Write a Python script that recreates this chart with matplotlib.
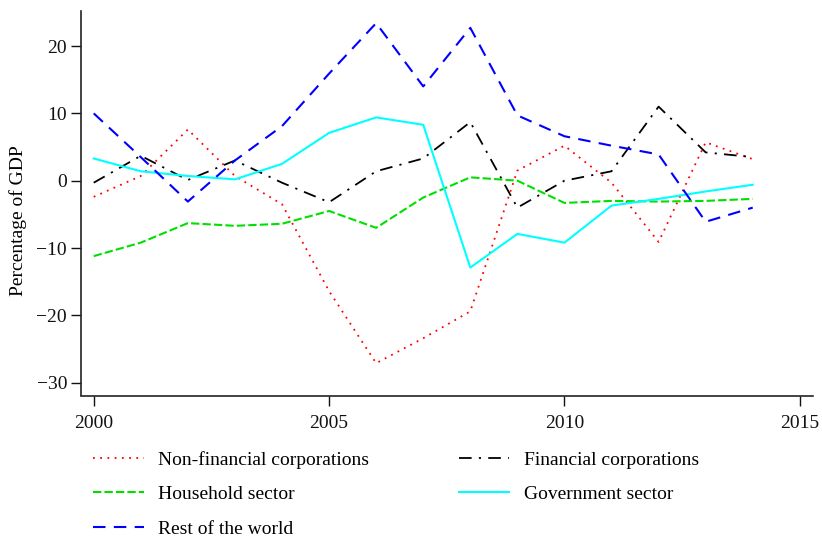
import matplotlib
matplotlib.use("Agg")
import matplotlib.pyplot as plt
from matplotlib.lines import Line2D

plt.rcParams['font.family'] = ['Liberation Serif', 'DejaVu Serif']

years = list(range(2000, 2015))
non_financial = [-2.4, 0.7, 7.6, 0.7, -3.5, -16.4, -27.1, -23.4, -19.4, 1.5, 5.2, -0.3, -9.1, 5.7, 3.2]
financial = [-0.3, 3.7, 0.1, 3.0, -0.3, -3.2, 1.4, 3.3, 8.7, -4.0, 0.0, 1.4, 11.0, 4.2, 3.5]
household = [-11.2, -9.2, -6.3, -6.7, -6.4, -4.5, -7.0, -2.5, 0.5, 0.0, -3.3, -3.0, -3.1, -3.0, -2.7]
government = [3.3, 1.4, 0.7, 0.2, 2.5, 7.1, 9.4, 8.3, -12.9, -7.9, -9.2, -3.7, -2.7, -1.6, -0.6]
rest_world = [10.0, 3.5, -3.1, 3.0, 8.1, 15.9, 23.4, 14.0, 22.7, 9.7, 6.6, 5.2, 3.9, -6.1, -4.0]

labels = ["Non-financial corporations", "Financial corporations", "Household sector",
          "Government sector", "Rest of the world"]
xticks = [2000, 2005, 2010, 2015]
yticks = [-30, -20, -10, 0, 10, 20]

fig = plt.figure(figsize=(8.22, 5.38), dpi=100)
ax = fig.add_axes([81/822, 1-395.5/538, (813-81)/822, (395.5-11)/538])

l1, = ax.plot(years, non_financial, color='#ff0000', lw=1.3, linestyle=(0, (1, 3)))
l2, = ax.plot(years, financial, color='black', lw=1.3, linestyle=(0, (7, 4, 1.2, 4)))
l3, = ax.plot(years, household, color='#00e000', lw=1.5, linestyle=(0, (4, 1.5)))
l4, = ax.plot(years, government, color='#00ffff', lw=1.5, linestyle='-')
l5, = ax.plot(years, rest_world, color='#0000ff', lw=1.5, linestyle=(0, (6, 4)))

ax.set_xlim(1999.73, 2015.28)
ax.set_ylim(-31.9, 25.2)
ax.set_xticks(xticks)
ax.set_yticks(yticks)
ax.set_yticklabels(["\u221230", "\u221220", "\u221210", "0", "10", "20"])
ax.spines['top'].set_visible(False)
ax.spines['right'].set_visible(False)
for s in ['left', 'bottom']:
    ax.spines[s].set_linewidth(1.2)
    ax.spines[s].set_color('#222222')
ax.tick_params(axis='both', direction='out', length=7, width=1.0, labelsize=14, colors='#111111')
ax.tick_params(axis='x', pad=7)
ax.tick_params(axis='y', pad=3)

fig.text(18/822, 1-221/538, "Percentage of GDP", rotation=90, ha='center', va='center', fontsize=14)

handles = [l1, l3, l5, l2, l4]
leg_labels = [labels[0], labels[2], labels[4], labels[1], labels[3]]
fig.legend(handles, leg_labels, loc='upper left', bbox_to_anchor=(93/822, 1-451/538),
           ncol=2, frameon=False, fontsize=14, handlelength=2.6, handletextpad=0.75,
           columnspacing=4.6, labelspacing=0.86, borderpad=0, borderaxespad=0)

fig.savefig("out.png", dpi=100)
